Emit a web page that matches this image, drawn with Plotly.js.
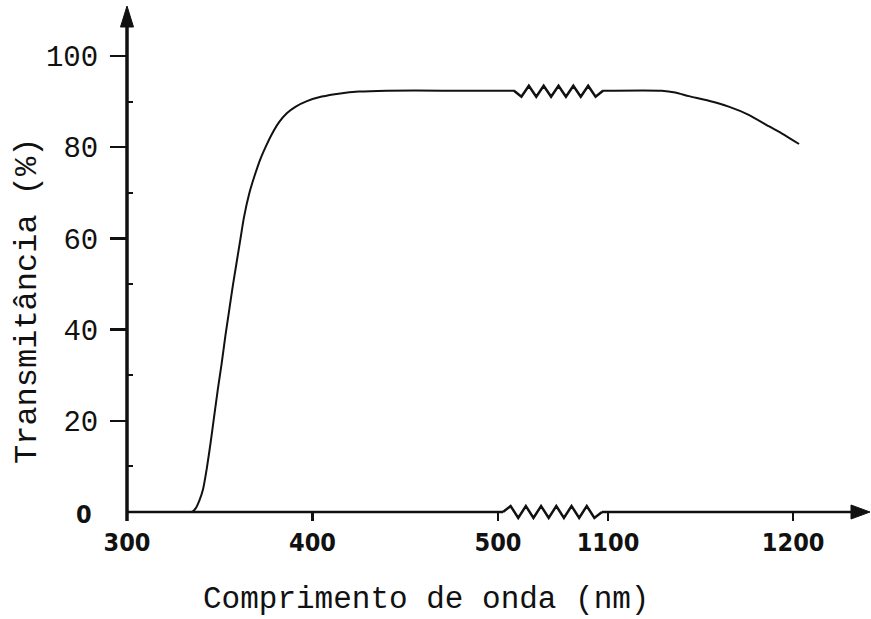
<!DOCTYPE html>
<html>
<head>
<meta charset="utf-8">
<script src="https://cdn.plot.ly/plotly-3.0.1.min.js"></script>
<style>html,body{margin:0;padding:0;background:#fff;}#chart{width:871px;height:619px;}</style>
</head>
<body>
<div id="chart"></div>
<script>
// ---- data ----
// visible part below the break (nm)
var wavelengthShort = [327, 335, 337, 339, 341, 343, 345, 347, 349, 351, 353, 355, 357, 359, 361, 363, 366, 369, 372, 375, 378, 382, 386, 391, 397, 405, 415, 425, 440, 470, 509];
var transmShort    = [0, 0, 0.8, 2.5, 5.0, 9.5, 15, 21, 27, 32.5, 38.5, 44, 49.5, 54.5, 59.5, 64.5, 70, 74, 77.5, 80.3, 82.8, 85.5, 87.4, 88.9, 90.1, 91.1, 91.8, 92.2, 92.4, 92.4, 92.4];
// part after the break (nm)
var wavelengthLong = [1097, 1129, 1136.3, 1143.7, 1154.4, 1165.2, 1176, 1186.8, 1194, 1203.2];
var transmLong     = [92.4, 92.4, 92.0, 91.2, 90.2, 88.9, 87.1, 84.6, 83.0, 80.7];

var xTicksShort = [300, 400, 500];
var xTicksLong  = [1100, 1200];
var yTicks      = [0, 20, 40, 60, 80, 100];
var yMinorTicks = [10, 30, 50, 70, 90];

var xTitle = 'Comprimento de onda (nm)';
var yTitle = 'Transmitância (%)';

// ---- geometry helpers (pixel -> paper) ----
var W = 871, H = 619;
var M = {l: 127, r: 1, t: 7, b: 107};
var PW = W - M.l - M.r, PH = H - M.t - M.b;
function px(x){ return (x - M.l) / PW; }
function py(y){ return (H - M.b - y) / PH; }
function path(pts, close){
  var s = pts.map(function(p, i){ return (i ? 'L' : 'M') + px(p[0]).toFixed(5) + ',' + py(p[1]).toFixed(5); }).join(' ');
  return close ? s + ' Z' : s;
}
function zig(x0, x1, yBase, n, up, down, startDown){
  var pts = [[x0, yBase]];
  var step = (x1 - x0) / n;
  for (var i = 1; i < n; i++) {
    var d = ((i % 2 === 1) === startDown) ? down : -up;
    pts.push([x0 + i * step, yBase + d]);
  }
  pts.push([x1, yBase]);
  return pts;
}

var mono = 'Liberation Mono, Courier New, monospace';
var narrow = 'Liberation Sans Narrow, DejaVu Sans Condensed, Arial Narrow, sans-serif';
var ink = '#111';

var traces = [
  {x: wavelengthShort, y: transmShort, xaxis: 'x', yaxis: 'y', mode: 'lines',
   line: {color: ink, width: 2, shape: 'spline', smoothing: 0.6}, hoverinfo: 'skip'},
  {x: wavelengthLong, y: transmLong, xaxis: 'x2', yaxis: 'y', mode: 'lines',
   line: {color: ink, width: 2, shape: 'spline', smoothing: 0.6}, hoverinfo: 'skip'}
];

var baseY = 512;
var shapes = [
  // y axis line
  {type: 'path', xref: 'paper', yref: 'paper', path: path([[127, 521], [127, 22]]), line: {color: ink, width: 3.5}},
  // y arrow head
  {type: 'path', xref: 'paper', yref: 'paper', path: path([[127, 6], [120.5, 27], [133.5, 27]], true), fillcolor: ink, line: {color: ink, width: 1}},
  // x axis line with break
  {type: 'path', xref: 'paper', yref: 'paper', path: path([[127, baseY], [503, baseY]]), line: {color: ink, width: 2.5}},
  {type: 'path', xref: 'paper', yref: 'paper', path: path(zig(503, 602, baseY, 13, 6, 6, false)), line: {color: ink, width: 2.5}},
  {type: 'path', xref: 'paper', yref: 'paper', path: path([[602, baseY], [856, baseY]]), line: {color: ink, width: 2.5}},
  // x arrow head
  {type: 'path', xref: 'paper', yref: 'paper', path: path([[870, baseY], [851, baseY - 7], [851, baseY + 7]], true), fillcolor: ink, line: {color: ink, width: 1}},
  // break on the curve
  {type: 'path', xref: 'paper', yref: 'paper', path: path(zig(514, 603, 90.7, 12, 5, 6, true)), line: {color: ink, width: 2.5}}
];

var tickFont = {family: narrow, size: 25, color: ink, weight: 'bold'};

var layout = {
  width: W, height: H,
  margin: M,
  paper_bgcolor: '#fff', plot_bgcolor: '#fff',
  showlegend: false,
  xaxis: {domain: [0, px(515)], range: [300, 300 + (515 - 127) / 1.855],
          tickmode: 'array', tickvals: xTicksShort, ticktext: xTicksShort.map(String),
          ticks: 'outside', ticklen: 8, tickwidth: 2.5, tickcolor: ink,
          showgrid: false, zeroline: false, showline: false, tickfont: tickFont, fixedrange: true},
  xaxis2: {domain: [px(602), 1], range: [1100 - (608 - 602) / 1.855, 1200 + (870 - 793) / 1.855], anchor: 'y',
          tickmode: 'array', tickvals: xTicksLong, ticktext: xTicksLong.map(String),
          ticks: 'outside', ticklen: 8, tickwidth: 2.5, tickcolor: ink,
          showgrid: false, zeroline: false, showline: false, tickfont: tickFont, fixedrange: true},
  yaxis: {domain: [0, 1], range: [0, PH / 4.56],
          tickmode: 'array', tickvals: yTicks.slice(1), ticktext: yTicks.slice(1).map(String),
          ticks: 'outside', ticklen: 16, tickwidth: 2.5, tickcolor: ink, ticklabelstandoff: 6,
          minor: {tickmode: 'array', tickvals: yMinorTicks, ticks: 'inside', ticklen: 6, tickwidth: 2, tickcolor: ink, showgrid: false},
          showgrid: false, zeroline: false, showline: false,
          tickfont: {family: mono, size: 29, color: ink}, fixedrange: true},
  shapes: shapes,
  annotations: [
    {xref: 'paper', yref: 'paper', x: px(84), y: py(514), text: String(yTicks[0]), showarrow: false,
     xanchor: 'center', yanchor: 'middle', font: {family: narrow, size: 25, color: ink, weight: 'bold'}},
    {xref: 'paper', yref: 'paper', x: px(425.5), y: py(599), text: xTitle, showarrow: false,
     xanchor: 'center', yanchor: 'middle', font: {family: mono, size: 31, color: ink}},
    {xref: 'paper', yref: 'paper', x: px(27), y: py(301), text: yTitle, showarrow: false, textangle: -90,
     xanchor: 'center', yanchor: 'middle', font: {family: mono, size: 32, color: ink}}
  ]
};

Plotly.newPlot('chart', traces, layout, {staticPlot: true, displayModeBar: false});
</script>
</body>
</html>
